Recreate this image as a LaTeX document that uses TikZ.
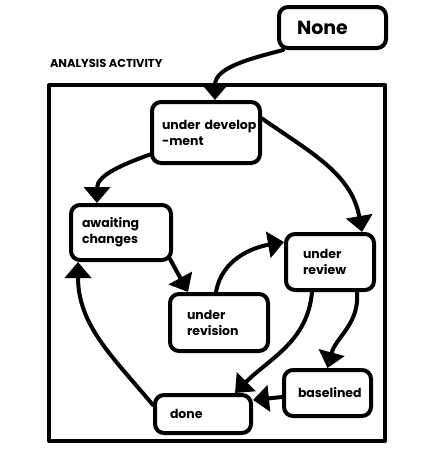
\documentclass[tikz,border=0pt]{standalone}
\usepackage{fontspec}
\setmainfont{Poppins}
\usetikzlibrary{arrows.meta}

\begin{document}
\begin{tikzpicture}[x=1pt,y=1pt,line width=4pt,line cap=round,line join=round,
  state/.style={draw,rounded corners=9pt,align=left,inner ysep=0pt,
    font=\bfseries\fontsize{12.5}{16}\selectfont},
  flow/.style={-{Triangle[length=16pt,width=26pt]}}]
\useasboundingbox (0,0) rectangle (425,-469);
% the activity frame
\draw (49,-85) rectangle (385,-441);
\node[anchor=west,inner sep=0pt,font=\bfseries\fontsize{11.5}{14}\selectfont] (title) at (48,-63.5) {ANALYSIS ACTIVITY};
% states
\node[state,minimum height=41pt,inner xsep=18pt,text width=71pt,
  font=\bfseries\fontsize{19}{22}\selectfont] (none) at (332.5,-27.5) {None};
\node[state,minimum height=61pt,inner xsep=10pt,text width=88pt] (dev) at (206,-132.5) {\mbox{under develop}\\-ment};
\node[state,minimum height=55pt,inner xsep=11pt,text width=78pt] (wait) at (121,-232.5) {awaiting\\changes};
\node[state,minimum height=56pt,inner xsep=17pt,text width=54pt] (review) at (330,-262) {under\\review};
\node[state,minimum height=57pt,inner xsep=17pt,text width=64pt] (revision) at (219,-322.5) {under\\revision};
\node[state,minimum height=46pt,inner xsep=14pt,text width=59pt] (base) at (327.5,-393) {baselined};
\node[state,minimum height=38pt,inner xsep=15pt,text width=66pt] (done) at (203,-414) {done};
% transitions
\draw[flow] ([xshift=6pt]none.south west) to[out=195,in=90] ([xshift=9pt]dev.north);
\draw[flow] ([yshift=-22pt]dev.west) to[out=200,in=90] ([xshift=-24pt]wait.north);
\draw[flow] ([yshift=14pt]dev.east) to[out=-35,in=100] ([xshift=32pt]review.north);
\draw[flow] ([shift={(-3pt,3pt)}]wait.south east) -- ([xshift=-31pt]revision.north);
\draw[flow] ([xshift=-3pt]revision.north) to[out=80,in=190] ([yshift=20pt]review.west);
\draw[flow] ([xshift=-18pt]review.south) to[out=-95,in=45] ([xshift=32pt]done.north);
\draw[flow] ([xshift=27pt]review.south) to[out=-85,in=75] (base.north);
\draw[flow] ([yshift=-4pt]base.west) -- ([yshift=14pt]done.east);
\draw[flow] ([yshift=9pt]done.west) to[out=130,in=-90] ([xshift=-43pt]wait.south);
\end{tikzpicture}
\end{document}
